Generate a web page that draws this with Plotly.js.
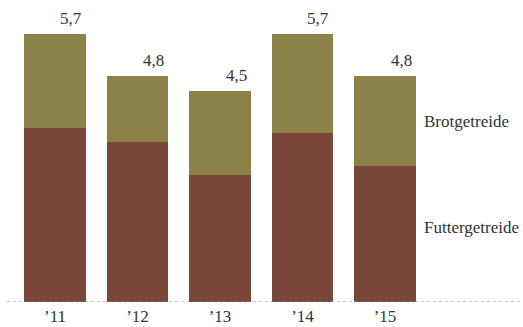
<!DOCTYPE html>
<html>
<head>
<meta charset="utf-8">
<script src="https://cdn.plot.ly/plotly-3.0.1.min.js"></script>
<style>
  html, body { margin: 0; padding: 0; background: #ffffff; }
  #chart { width: 523px; height: 327px; }
</style>
</head>
<body>
<div id="chart"></div>
<script>
// Getreideernte nach Jahr (Mio. t)
const years = ["’11", "’12", "’13", "’14", "’15"];
const futtergetreide = [3.7, 3.4, 2.7, 3.6, 2.9];
const brotgetreide = [2.0, 1.4, 1.8, 2.1, 1.9];
const seriesNames = ["Futtergetreide", "Brotgetreide"];

const totals = years.map((_, i) => futtergetreide[i] + brotgetreide[i]);
const fmt = v => v.toFixed(1).replace(".", ",");

const FONT = "'Liberation Serif', 'DejaVu Serif', serif";
const TEXT = "#333333";
const BAR_W = 0.75;

const traces = [
  {
    type: "bar", name: seriesNames[0], x: years, y: futtergetreide,
    width: BAR_W, marker: { color: "#7a463a", line: { width: 0 } },
    hoverinfo: "skip"
  },
  {
    type: "bar", name: seriesNames[1], x: years, y: brotgetreide,
    width: BAR_W, marker: { color: "#8c8249", line: { width: 0 } },
    hoverinfo: "skip"
  }
];

// Summenwerte über den Säulen, rechtsbündig zur Säulenkante
const annotations = years.map((yr, i) => ({
  x: i + BAR_W / 2, y: totals[i], xref: "x", yref: "y",
  text: fmt(totals[i]), showarrow: false,
  xanchor: "right", yanchor: "bottom", xshift: -2, yshift: 4,
  font: { family: FONT, size: 17, color: TEXT }
}));

// Reihenbeschriftung rechts neben der letzten Säule
const last = years.length - 1;
annotations.push({
  x: last + BAR_W / 2, y: futtergetreide[last] + brotgetreide[last] / 2,
  xref: "x", yref: "y", text: seriesNames[1], showarrow: false,
  xanchor: "left", yanchor: "middle", xshift: 6,
  font: { family: FONT, size: 17, color: TEXT }
});
annotations.push({
  x: last + BAR_W / 2, y: futtergetreide[last] / 2,
  xref: "x", yref: "y", text: seriesNames[0], showarrow: false,
  xanchor: "left", yanchor: "middle", xshift: 6, yshift: 6,
  font: { family: FONT, size: 17, color: TEXT }
});

const layout = {
  width: 523, height: 327,
  margin: { l: 0, r: 0, t: 0, b: 25 },
  paper_bgcolor: "#ffffff", plot_bgcolor: "#ffffff",
  barmode: "stack",
  showlegend: false,
  xaxis: {
    type: "category", range: [-0.667, 5.673],
    showgrid: false, zeroline: false, showline: false, ticks: "",
    ticklabelstandoff: 2,
    tickfont: { family: FONT, size: 17, color: TEXT },
    fixedrange: true
  },
  yaxis: {
    range: [0, 6.426], visible: false, showgrid: false, zeroline: false,
    fixedrange: true
  },
  shapes: [{
    type: "line", xref: "paper", yref: "y",
    x0: 0.013, x1: 0.997, y0: 0, y1: 0,
    line: { color: "#8a8e9c", width: 1.2, dash: "dot" },
    layer: "above"
  }],
  annotations: annotations
};

Plotly.newPlot("chart", traces, layout, { displayModeBar: false, staticPlot: true });
</script>
</body>
</html>
